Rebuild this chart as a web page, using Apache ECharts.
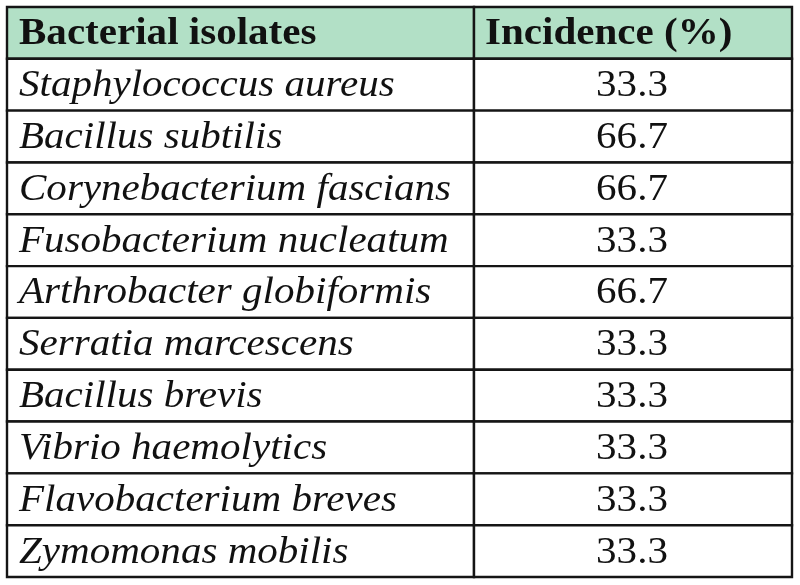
<!DOCTYPE html>
<html>
<head>
<meta charset="utf-8">
<script src="https://cdn.jsdelivr.net/npm/echarts@6/dist/echarts.min.js"></script>
<style>html,body{margin:0;padding:0;background:#fff;}#main{width:800px;height:585px;}</style>
</head>
<body>
<div id="main"></div>
<script>
const headers = ['Bacterial isolates', 'Incidence (%)'];
const isolates = ['Staphylococcus aureus','Bacillus subtilis','Corynebacterium fascians','Fusobacterium nucleatum','Arthrobacter globiformis','Serratia marcescens','Bacillus brevis','Vibrio haemolytics','Flavobacterium breves','Zymomonas mobilis'];
const incidence = [33.3, 66.7, 66.7, 33.3, 66.7, 33.3, 33.3, 33.3, 33.3, 33.3];

const rowKeys = ['header'].concat(isolates);
const HEADER_FILL = '#b2e0c6';
const FONT = '"Liberation Serif","Times New Roman",serif';
const SX = 1.08;

function makeRender(colIdx) {
  return function (params, api) {
    const row = api.value(1);
    const c = api.coord([api.value(0), row]);
    const s = api.size([1, 1]);
    const x = c[0] - s[0] / 2, y = c[1] - s[1] / 2;
    const isHeader = row === 0;
    const txt = colIdx === 0
      ? (isHeader ? headers[0] : isolates[row - 1])
      : (isHeader ? headers[1] : incidence[row - 1].toFixed(1));
    const font = (isHeader ? 'bold ' : (colIdx === 0 ? 'italic ' : '')) + '38px ' + FONT;
    const leftAligned = colIdx === 0 || isHeader;
    const tx = colIdx === 0 ? x + 12 : (isHeader ? x + 11 : c[0] - 1);
    return {
      type: 'group',
      children: [
        { type: 'rect', shape: { x: x, y: y, width: s[0], height: s[1] },
          style: { fill: isHeader ? HEADER_FILL : '#ffffff', stroke: '#151515', lineWidth: 2.4 } },
        { type: 'text', x: tx, y: c[1] + 1.5, scaleX: SX, scaleY: 1, originX: 0, originY: 0,
          style: { x: 0, y: 0, text: txt, font: font, fill: '#111',
            align: leftAligned ? 'left' : 'center', verticalAlign: 'middle' } }
      ]
    };
  };
}

const chart = echarts.init(document.getElementById('main'), null, { renderer: 'canvas' });
chart.setOption({
  backgroundColor: '#fff',
  animation: false,
  grid: [
    { left: 7, top: 7, width: 467, bottom: 8 },
    { left: 474, top: 7, right: 8, bottom: 8 }
  ],
  xAxis: [
    { gridIndex: 0, type: 'category', data: [headers[0]], show: false },
    { gridIndex: 1, type: 'category', data: [headers[1]], show: false }
  ],
  yAxis: [
    { gridIndex: 0, type: 'category', data: rowKeys, inverse: true, show: false },
    { gridIndex: 1, type: 'category', data: rowKeys, inverse: true, show: false }
  ],
  series: [
    { type: 'custom', xAxisIndex: 0, yAxisIndex: 0, renderItem: makeRender(0),
      data: rowKeys.map((k, i) => [0, i]) },
    { type: 'custom', xAxisIndex: 1, yAxisIndex: 1, renderItem: makeRender(1),
      data: rowKeys.map((k, i) => [0, i]) }
  ]
});
</script>
</body>
</html>
